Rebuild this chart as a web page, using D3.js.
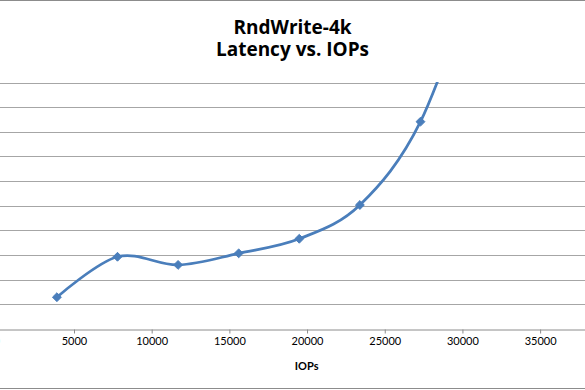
<!DOCTYPE html>
<html>
<head>
<meta charset="utf-8">
<script src="https://cdn.jsdelivr.net/npm/d3@7"></script>
<style>
  html, body { margin: 0; padding: 0; background: #fff; }
  svg { display: block; }
</style>
</head>
<body>
<svg id="chart" width="585" height="390"></svg>
<script>
// ---- data ----
const titleLines = ["RndWrite-4k", "Latency vs. IOPs"];
const xAxisTitle = "IOPs";
const iops = [3900, 7800, 11700, 15600, 19500, 23400, 27300, 31200];
const latency = [1.29, 2.93, 2.60, 3.07, 3.66, 5.03, 8.41, 15.0];
const xTicks = [0, 5000, 10000, 15000, 20000, 25000, 30000, 35000];
const yTicks = [0, 1, 2, 3, 4, 5, 6, 7, 8, 9, 10];

// ---- layout ----
const W = 585, H = 390;
const plot = { left: -3.7, right: 617.8, top: 82.5, bottom: 329 };
const svg = d3.select("#chart");

const x = d3.scaleLinear().domain([0, 40000]).range([plot.left, plot.right]);
const y = d3.scaleLinear().domain([0, 10]).range([plot.bottom, plot.top]);

// chart border (top/bottom visible)
svg.append("line").attr("x1", 0).attr("x2", W).attr("y1", 0.5).attr("y2", 0.5)
  .attr("stroke", "#8c8c8c").attr("stroke-width", 1);
svg.append("line").attr("x1", 0).attr("x2", W).attr("y1", 388.5).attr("y2", 388.5)
  .attr("stroke", "#8c8c8c").attr("stroke-width", 1);

// title
const title = svg.append("text")
  .attr("text-anchor", "middle")
  .attr("font-family", "'Open Sans', Lato, sans-serif")
  .attr("font-weight", "bold")
  .attr("font-size", 19)
  .attr("fill", "#000");
titleLines.forEach((t, i) => {
  title.append("tspan").attr("x", 292.5).attr("y", 33.5 + i * 22.3).text(t);
});

// gridlines
svg.append("g")
  .selectAll("line")
  .data(yTicks.filter(d => d > 0))
  .join("line")
  .attr("x1", 0).attr("x2", W)
  .attr("y1", d => Math.round(y(d)) + 0.5)
  .attr("y2", d => Math.round(y(d)) + 0.5)
  .attr("stroke", "#a6a6a6").attr("stroke-width", 1);

// x axis
const xAxis = d3.axisBottom(x).tickValues(xTicks).tickSize(4).tickPadding(4)
  .tickFormat(d3.format("d"));
const gx = svg.append("g")
  .attr("transform", `translate(0,${Math.round(plot.bottom) + 0.5})`)
  .call(xAxis);
gx.select(".domain").attr("stroke", "#8c8c8c");
gx.selectAll(".tick line").attr("stroke", "#8c8c8c");
gx.selectAll(".tick text")
  .attr("font-family", "Lato, 'Open Sans', sans-serif")
  .attr("font-size", 11)
  .attr("fill", "#000");

// x axis title
svg.append("text")
  .attr("x", 306.7).attr("y", 369.5)
  .attr("text-anchor", "middle")
  .attr("font-family", "Lato, 'Open Sans', sans-serif")
  .attr("font-weight", "bold")
  .attr("font-size", 11)
  .attr("fill", "#000")
  .text(xAxisTitle);

// clip
svg.append("clipPath").attr("id", "plotclip")
  .append("rect")
  .attr("x", plot.left).attr("y", plot.top - 0.5)
  .attr("width", plot.right - plot.left).attr("height", plot.bottom - plot.top + 0.5);

const pts = iops.map((v, i) => [v, latency[i]]);
const line = d3.line()
  .x(d => x(d[0])).y(d => y(d[1]))
  .curve(d3.curveCardinal.tension(0));

const g = svg.append("g").attr("clip-path", "url(#plotclip)");
g.append("path")
  .datum(pts)
  .attr("d", line)
  .attr("fill", "none")
  .attr("stroke", "#4a7ebb")
  .attr("stroke-width", 2.75)
  .attr("stroke-linejoin", "round");

g.selectAll("path.marker")
  .data(pts)
  .join("path")
  .attr("class", "marker")
  .attr("transform", d => `translate(${x(d[0])},${y(d[1])})`)
  .attr("d", d3.symbol(d3.symbolDiamond2, 50))
  .attr("fill", "#4a7ebb")
  .attr("stroke", "#4a7ebb")
  .attr("stroke-width", 1);
</script>
</body>
</html>
